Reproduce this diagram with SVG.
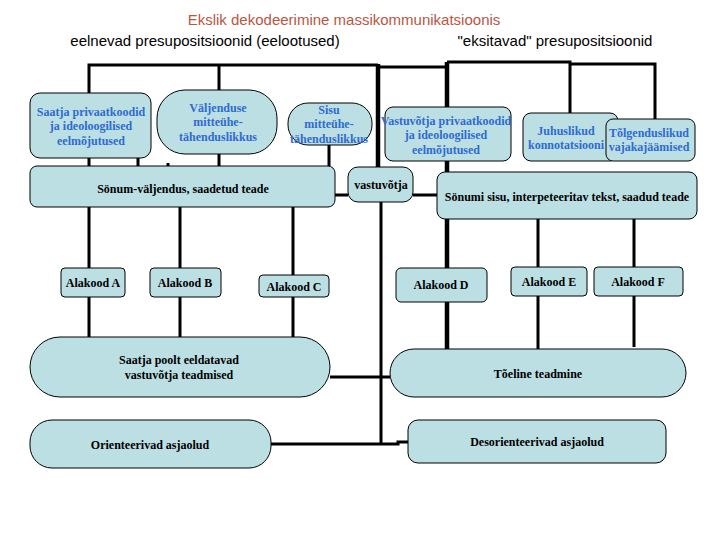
<svg xmlns="http://www.w3.org/2000/svg" width="720" height="540" viewBox="0 0 720 540">
<style>
.bx{fill:#bcdfe3;stroke:#000;stroke-width:1}
.c{fill:none;stroke:#000;stroke-width:3}
.ck{fill:none;stroke:#000;stroke-width:4.5}
.t{font-family:"Liberation Serif","Times New Roman",serif;font-weight:bold;font-size:12px;text-anchor:middle;fill:#000}
.b{fill:#2e6bd1}
.h{font-family:"Liberation Sans",Arial,sans-serif;font-size:15px;text-anchor:middle}
</style>
<rect width="720" height="540" fill="#fff"/>
<text class="h" x="344" y="25" fill="#b9563f">Ekslik dekodeerimine massikommunikatsioonis</text>
<text class="h" x="205" y="46" fill="#000">eelnevad presupositsioonid (eelootused)</text>
<text class="h" x="555" y="46" fill="#000">"eksitavad" presupositsioonid</text>
<g id="connectors">
<path class="c" d="M89 93 V65 H378"/>
<path class="c" d="M219 65 V90"/>
<path class="ck" d="M378 64 V167"/>
<path class="c" d="M378 67 H447"/>
<path class="ck" d="M447 62 V107"/>
<path class="c" d="M447 62 H570 V113"/>
<path class="c" d="M570 64 H655 V119"/>
<path class="c" d="M89 158 V166 M138 158 V166 M219 154 V166 M329 145 V166 M168 163 V166"/>
<path class="c" d="M335 195 H348 M413 195 H437"/>
<path class="ck" d="M447 161 V172"/>
<path class="c" d="M89 207 V337 M180 207 V337 M293 207 V337"/>
<path class="ck" d="M447 219 V349"/>
<path class="c" d="M538 219 V349 M634 219 V347"/>
<path class="c" d="M381 202 V444"/>
<path class="c" d="M330 377 H390"/>
<path class="c" d="M271 444 H398 V442 H408"/>
</g>
<g id="saatja-privaat"><rect class="bx" x="30" y="93" width="121" height="65" rx="10"/>
<text class="t b" x="91"><tspan x="91" y="116">Saatja privaatkoodid</tspan><tspan x="91" y="130">ja ideoloogilised</tspan><tspan x="91" y="145">eelmõjutused</tspan></text></g>
<g id="valjenduse"><rect class="bx" x="157" y="90" width="120" height="64" rx="28"/>
<text class="t b"><tspan x="218" y="112">Väljenduse</tspan><tspan x="218" y="126">mitteühe-</tspan><tspan x="218" y="141">tähenduslikkus</tspan></text></g>
<g id="sisu"><rect class="bx" x="288" y="103" width="84" height="42" rx="20"/>
<text class="t b"><tspan x="329" y="114">Sisu</tspan><tspan x="329" y="128">mitteühe-</tspan><tspan x="329" y="143">tähenduslikkus</tspan></text></g>
<g id="sonum"><rect class="bx" x="30" y="166" width="305" height="41" rx="7"/>
<text class="t" x="183" y="193">Sönum-väljendus, saadetud teade</text></g>
<g id="vastuvotja"><rect class="bx" x="348" y="167" width="65" height="35" rx="10"/>
<text class="t" x="381" y="189">vastuvõtja</text></g>
<g id="vastuvotja-privaat"><rect class="bx" x="385" y="107" width="126" height="54" rx="8"/>
<text class="t b"><tspan x="446" y="125">Vastuvõtja privaatkoodid</tspan><tspan x="446" y="139">ja ideoloogilised</tspan><tspan x="446" y="154">eelmõjutused</tspan></text></g>
<g id="juhuslikud"><rect class="bx" x="523" y="113" width="95" height="48" rx="8"/>
<text class="t b"><tspan x="566" y="135">Juhuslikud</tspan><tspan x="566" y="149">konnotatsiooni</tspan></text></g>
<g id="tolgenduslikud"><rect class="bx" x="606" y="119" width="89" height="42" rx="7"/>
<text class="t b"><tspan x="649" y="137">Tõlgenduslikud</tspan><tspan x="649" y="151">vajakajäämised</tspan></text></g>
<g id="sonumi-sisu"><rect class="bx" x="437" y="172" width="260" height="47" rx="8"/>
<text class="t" x="567" y="201">Sönumi sisu, interpeteeritav tekst, saadud teade</text></g>
<g id="alakood-a"><rect class="bx" x="61" y="268" width="64" height="29" rx="4"/><text class="t" x="93" y="287">Alakood A</text></g>
<g id="alakood-b"><rect class="bx" x="150" y="268" width="71" height="29" rx="4"/><text class="t" x="185" y="287">Alakood B</text></g>
<g id="alakood-c"><rect class="bx" x="259" y="275" width="70" height="22" rx="4"/><text class="t" x="294" y="291">Alakood C</text></g>
<g id="alakood-d"><rect class="bx" x="396" y="268" width="91" height="34" rx="5"/><text class="t" x="441" y="289">Alakood D</text></g>
<g id="alakood-e"><rect class="bx" x="511" y="267" width="76" height="29" rx="4"/><text class="t" x="549" y="286">Alakood E</text></g>
<g id="alakood-f"><rect class="bx" x="594" y="267" width="89" height="29" rx="4"/><text class="t" x="638" y="286">Alakood F</text></g>
<g id="saatja-poolt"><rect class="bx" x="30" y="337" width="300" height="60" rx="30"/>
<text class="t"><tspan x="179" y="364">Saatja poolt eeldatavad</tspan><tspan x="179" y="379">vastuvõtja teadmised</tspan></text></g>
<g id="orienteerivad"><rect class="bx" x="30" y="420" width="241" height="48" rx="22"/><text class="t" x="150" y="449">Orienteerivad asjaolud</text></g>
<g id="tõeline"><rect class="bx" x="390" y="349" width="296" height="48" rx="24"/><text class="t" x="538" y="378">Tõeline teadmine</text></g>
<g id="desorienteerivad"><rect class="bx" x="408" y="420" width="258" height="43" rx="10"/><text class="t" x="537" y="446">Desorienteerivad asjaolud</text></g>
</svg>
